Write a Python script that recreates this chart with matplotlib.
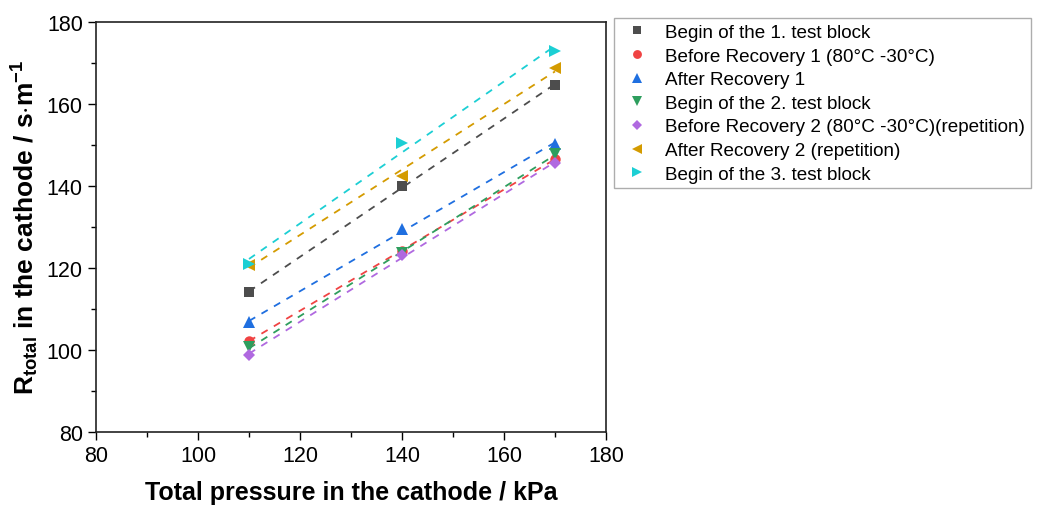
import numpy as np
import matplotlib
matplotlib.use("Agg")
import matplotlib.pyplot as plt
from matplotlib.ticker import MultipleLocator

plt.rcParams['font.family'] = ['Liberation Sans', 'DejaVu Sans']
plt.rcParams['mathtext.fontset'] = 'custom'
plt.rcParams['mathtext.rm'] = 'Liberation Sans'
plt.rcParams['mathtext.bf'] = 'Liberation Sans:bold'

pressure = [110, 140, 170]

labels = [
    "Begin of the 1. test block",
    "Before Recovery 1 (80°C -30°C)",
    "After Recovery 1",
    "Begin of the 2. test block",
    "Before Recovery 2 (80°C -30°C)(repetition)",
    "After Recovery 2 (repetition)",
    "Begin of the 3. test block",
]
begin_1 = [114.0, 140.0, 164.5]
before_rec_1 = [102.2, 124.2, 146.5]
after_rec_1 = [106.7, 129.5, 150.2]
begin_2 = [100.6, 123.5, 147.7]
before_rec_2 = [98.8, 123.0, 145.5]
after_rec_2 = [120.8, 142.4, 168.6]
begin_3 = [121.0, 150.4, 172.9]

series = [begin_1, before_rec_1, after_rec_1, begin_2, before_rec_2, after_rec_2, begin_3]
colors = ['#4d4d4d', '#f04343', '#1f6fe0', '#2e9e5e', '#b069e0', '#d49b00', '#1ccfd4']
markers = ['s', 'o', '^', 'v', 'D', '<', '>']
sizes = [6.5, 7.5, 8, 8, 6.5, 8, 8]

fig = plt.figure(figsize=(10.37, 5.06), dpi=100)
ax = fig.add_axes([96 / 1037, 1 - 433 / 506, 510 / 1037, 410.5 / 506])

x = np.array(pressure, dtype=float)
for vals, c, m, ms, lab in zip(series, colors, markers, sizes, labels):
    ax.plot(x, vals, linestyle='none', marker=m, color=c, markersize=ms,
            markeredgewidth=0, label=lab, zorder=3)
    # linear fit through the three pressures
    k, b = np.polyfit(x, vals, 1)
    ax.plot(x, k * x + b, linestyle=(0, (4, 4)), color=c, linewidth=1.3, zorder=2)

ax.set_xlim(80, 180)
ax.set_ylim(80, 180)
ax.xaxis.set_major_locator(MultipleLocator(20))
ax.xaxis.set_minor_locator(MultipleLocator(10))
ax.yaxis.set_major_locator(MultipleLocator(20))
ax.yaxis.set_minor_locator(MultipleLocator(10))
ax.tick_params(which='both', direction='out', labelsize=15.5, width=1.0, color='black')
ax.tick_params(which='major', length=6)
ax.tick_params(which='minor', length=3.5)
for s in ax.spines.values():
    s.set_linewidth(1.2)
    s.set_color('#222222')

ax.set_xlabel('Total pressure in the cathode / kPa', fontsize=18, fontweight='bold', labelpad=10)
ax.set_ylabel(r'$\mathbf{R_{total}}$ in the cathode / s$\cdot$m$^{\mathbf{-1}}$',
              fontsize=19, fontweight='bold', labelpad=4)

leg = fig.legend(loc='upper left', bbox_to_anchor=(614 / 1037, 1 - 19 / 506),
                 fontsize=13.6, frameon=True, fancybox=False, handletextpad=0.6,
                 borderpad=0.3, labelspacing=0.34, handlelength=1.8,
                 markerscale=0.85, borderaxespad=0)
leg.get_frame().set_edgecolor('#999999')
leg.get_frame().set_linewidth(1.0)

fig.savefig('out.png', dpi=100)
